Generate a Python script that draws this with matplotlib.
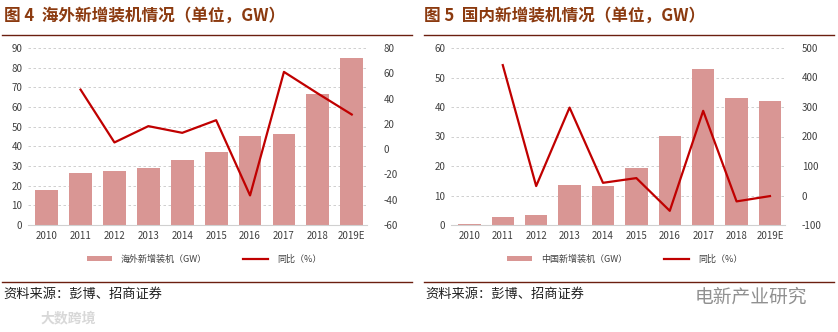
import numpy as np
import matplotlib
matplotlib.use("Agg")
import matplotlib.pyplot as plt

plt.rcParams['font.family'] = ['Noto Sans CJK SC', 'DejaVu Sans']
plt.rcParams['axes.unicode_minus'] = False

years = ['2010', '2011', '2012', '2013', '2014', '2015', '2016', '2017', '2018', '2019E']

# overseas new installations (GW) and yoy (%)
overseas_gw = [17.8, 26.6, 27.7, 28.8, 32.8, 36.9, 45.2, 46.4, 66.7, 84.8]
overseas_yoy = [np.nan, 47.1, 5.3, 18.2, 12.9, 22.9, -36.6, 61.1, 44.0, 27.4]

# china new installations (GW) and yoy (%)
china_gw = [0.45, 2.6, 3.5, 13.6, 13.2, 19.2, 30.1, 52.9, 43.1, 41.9]
china_yoy = [np.nan, 442, 32, 298, 43, 59, -52, 287, -20, -2]

bar_c = '#D99694'
line_c = '#C00000'
title_c = '#8B3A0F'
tick_c = '#404040'
rule_c = '#6B1F10'

fig = plt.figure(figsize=(8.38, 3.32), dpi=100)
W, H = 838, 332

def px(x0, y0, x1, y1):
    return [x0 / W, 1 - y1 / H, (x1 - x0) / W, (y1 - y0) / H]

def panel(rect, gw, yoy, ylim1, yt1, ylim2, yt2, bar_label):
    ax = fig.add_axes(rect)
    x = np.arange(len(years))
    b = ax.bar(x, gw, width=0.67, color=bar_c, zorder=2)
    ax.set_xlim(-0.55, 9.45)
    ax.set_ylim(*ylim1)
    ax.set_yticks(yt1)
    ax.set_xticks(x)
    ax.set_xticklabels(years)
    ax.grid(axis='y', color='#C8C8C8', linestyle=(0, (3, 3)), linewidth=0.6, zorder=0)
    for s in ['top', 'right', 'left']:
        ax.spines[s].set_visible(False)
    ax.spines['bottom'].set_color('#D0D0D0')
    ax.tick_params(length=0, labelsize=7, colors=tick_c, pad=4)
    ax2 = ax.twinx()
    l, = ax2.plot(x, yoy, color=line_c, linewidth=1.6, zorder=3)
    ax2.set_ylim(*ylim2)
    ax2.set_yticks(yt2)
    for s in ax2.spines.values():
        s.set_visible(False)
    ax2.tick_params(length=0, labelsize=7, colors=tick_c, pad=12)
    leg = ax.legend([b, l], [bar_label, '同比（%）'], loc='upper center',
                    bbox_to_anchor=(0.52, -0.12), ncol=2, frameon=False,
                    fontsize=6.5, handlelength=2.8, columnspacing=4,
                    handleheight=0.5, handletextpad=1.0)
    for t in leg.get_texts():
        t.set_color('#404040')
    return ax

panel(px(28, 48, 367, 225), overseas_gw, overseas_yoy, (0, 90), range(0, 91, 10),
      (-60, 80), range(-60, 81, 20), '海外新增装机（GW）')
panel(px(451, 48, 785, 225), china_gw, china_yoy, (0, 60), range(0, 61, 10),
      (-100, 500), range(-100, 501, 100), '中国新增装机（GW）')

# titles and rules
fig.text(4 / W, 1 - 16 / H, '图 4  海外新增装机情况（单位，GW）', fontsize=12,
         fontweight='bold', color=title_c, va='center')
fig.text(424 / W, 1 - 16 / H, '图 5  国内新增装机情况（单位，GW）', fontsize=12,
         fontweight='bold', color=title_c, va='center')
for x0, x1 in [(2, 412), (424, 834)]:
    fig.add_artist(plt.Line2D([x0 / W, x1 / W], [1 - 35 / H] * 2, color=rule_c, linewidth=1))
    fig.add_artist(plt.Line2D([x0 / W, x1 / W], [1 - 282 / H] * 2, color=rule_c, linewidth=1))
fig.text(3 / W, 1 - 294 / H, '资料来源：彭博、招商证券', fontsize=9.5, color='#202020', va='center')
fig.text(425 / W, 1 - 294 / H, '资料来源：彭博、招商证券', fontsize=9.5, color='#202020', va='center')
fig.text(40 / W, 1 - 318 / H, '大数跨境', fontsize=10, color='#D8D8D8', va='center', fontweight='bold')
fig.text(695 / W, 1 - 297 / H, '电新产业研究', fontsize=13.5, color='#909090', va='center')

fig.savefig('out.png', dpi=100)
